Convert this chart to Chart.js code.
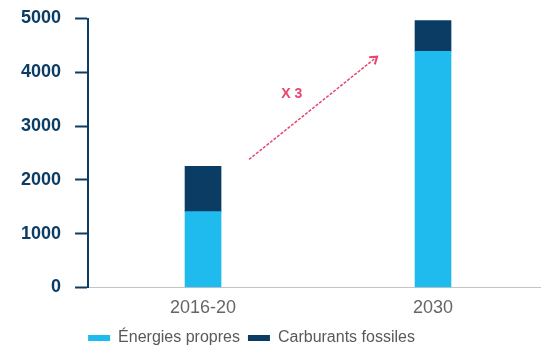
<!DOCTYPE html>
<html>
<head>
<meta charset="utf-8">
<script src="https://cdn.jsdelivr.net/npm/chart.js@4.4.0/dist/chart.umd.min.js"></script>
<style>
  html, body { margin: 0; padding: 0; background: #fff; overflow: hidden; }
  #wrap { position: relative; width: 548px; height: 347px; }
</style>
</head>
<body>
<div id="wrap"><canvas id="c"></canvas></div>
<script>
// ------------------------------------------------------------
// Données
// ------------------------------------------------------------
const categories = ["2016-20", "2030"];
const energiesPropres = [1410, 4390];
const carburantsFossiles = [840, 570];
const yTicks = [0, 1000, 2000, 3000, 4000, 5000];

// flèche "X 3" (en coordonnées de données : index catégorie, valeur)
const arrowFrom = [0.2, 2380];
const arrowTo = [0.757, 4290];
const arrowLabel = "X 3";
const arrowLabelAt = [0.386, 3590];

const NAVY = "#0b3c64";
const CYAN = "#1fbbee";
const PINK = "#e8456f";
const FONT = "'Liberation Sans', Arial, sans-serif";

// ------------------------------------------------------------
// Plugin : flèche en pointillés + texte
// ------------------------------------------------------------
const arrowPlugin = {
  id: "arrowX3",
  afterDatasetsDraw(chart) {
    const { ctx, scales } = chart;
    const x1 = scales.x.getPixelForValue(arrowFrom[0]);
    const y1 = scales.y.getPixelForValue(arrowFrom[1]);
    const x2 = scales.x.getPixelForValue(arrowTo[0]);
    const y2 = scales.y.getPixelForValue(arrowTo[1]);

    ctx.save();
    ctx.strokeStyle = PINK;
    ctx.lineWidth = 1.5;
    ctx.setLineDash([3, 1.5]);
    ctx.beginPath();
    ctx.moveTo(x1, y1);
    ctx.lineTo(x2, y2);
    ctx.stroke();

    // tête de flèche ouverte
    const ang = Math.atan2(y2 - y1, x2 - x1);
    const len = 8;
    ctx.setLineDash([]);
    ctx.lineWidth = 2;
    ctx.beginPath();
    ctx.moveTo(x2 - len * Math.cos(ang - 0.6), y2 - len * Math.sin(ang - 0.6));
    ctx.lineTo(x2, y2);
    ctx.lineTo(x2 - len * Math.cos(ang + 0.6), y2 - len * Math.sin(ang + 0.6));
    ctx.stroke();

    ctx.fillStyle = PINK;
    ctx.font = "bold 14px " + FONT;
    ctx.textAlign = "center";
    ctx.textBaseline = "middle";
    ctx.fillText(arrowLabel,
      scales.x.getPixelForValue(arrowLabelAt[0]),
      scales.y.getPixelForValue(arrowLabelAt[1]));
    ctx.restore();
  }
};

// légende décalée comme sur l'original
const legendShift = {
  id: "legendShift",
  afterLayout(chart) {
    const lg = chart.legend;
    if (!lg) return;
    lg.left -= 26;
    lg.right -= 26;
    lg.top += 1;
    lg.bottom += 1;
  }
};

new Chart(document.getElementById("c"), {
  type: "bar",
  data: {
    labels: categories,
    datasets: [
      {
        label: "Énergies propres",
        data: energiesPropres,
        backgroundColor: CYAN,
        barThickness: 36
      },
      {
        label: "Carburants fossiles",
        data: carburantsFossiles,
        backgroundColor: NAVY,
        barThickness: 36
      }
    ]
  },
  options: {
    responsive: true,
    maintainAspectRatio: false,
    animation: false,
    layout: { padding: { left: 7, top: 17, right: 0, bottom: -8 } },
    plugins: {
      tooltip: { enabled: false },
      legend: {
        position: "bottom",
        labels: {
          boxWidth: 22,
          boxHeight: 6,
          padding: 8,
          color: "#595959",
          font: { family: FONT, size: 16 }
        }
      }
    },
    scales: {
      x: {
        stacked: true,
        grid: { display: false },
        border: { color: "#c4c4c4", width: 1 },
        ticks: {
          color: "#666",
          padding: 2,
          font: { family: FONT, size: 18 }
        }
      },
      y: {
        stacked: true,
        min: 0,
        max: 5000,
        afterBuildTicks: axis => { axis.ticks = yTicks.map(v => ({ value: v })); },
        grid: {
          drawOnChartArea: false,
          drawTicks: true,
          tickLength: 13,
          tickColor: NAVY,
          tickWidth: 2
        },
        border: { color: NAVY, width: 2 },
        ticks: {
          color: NAVY,
          padding: 14,
          callback: v => String(v),
          font: { family: FONT, size: 18, weight: "bold", lineHeight: 0.5 }
        }
      }
    }
  },
  plugins: [arrowPlugin, legendShift]
});
</script>
</body>
</html>
